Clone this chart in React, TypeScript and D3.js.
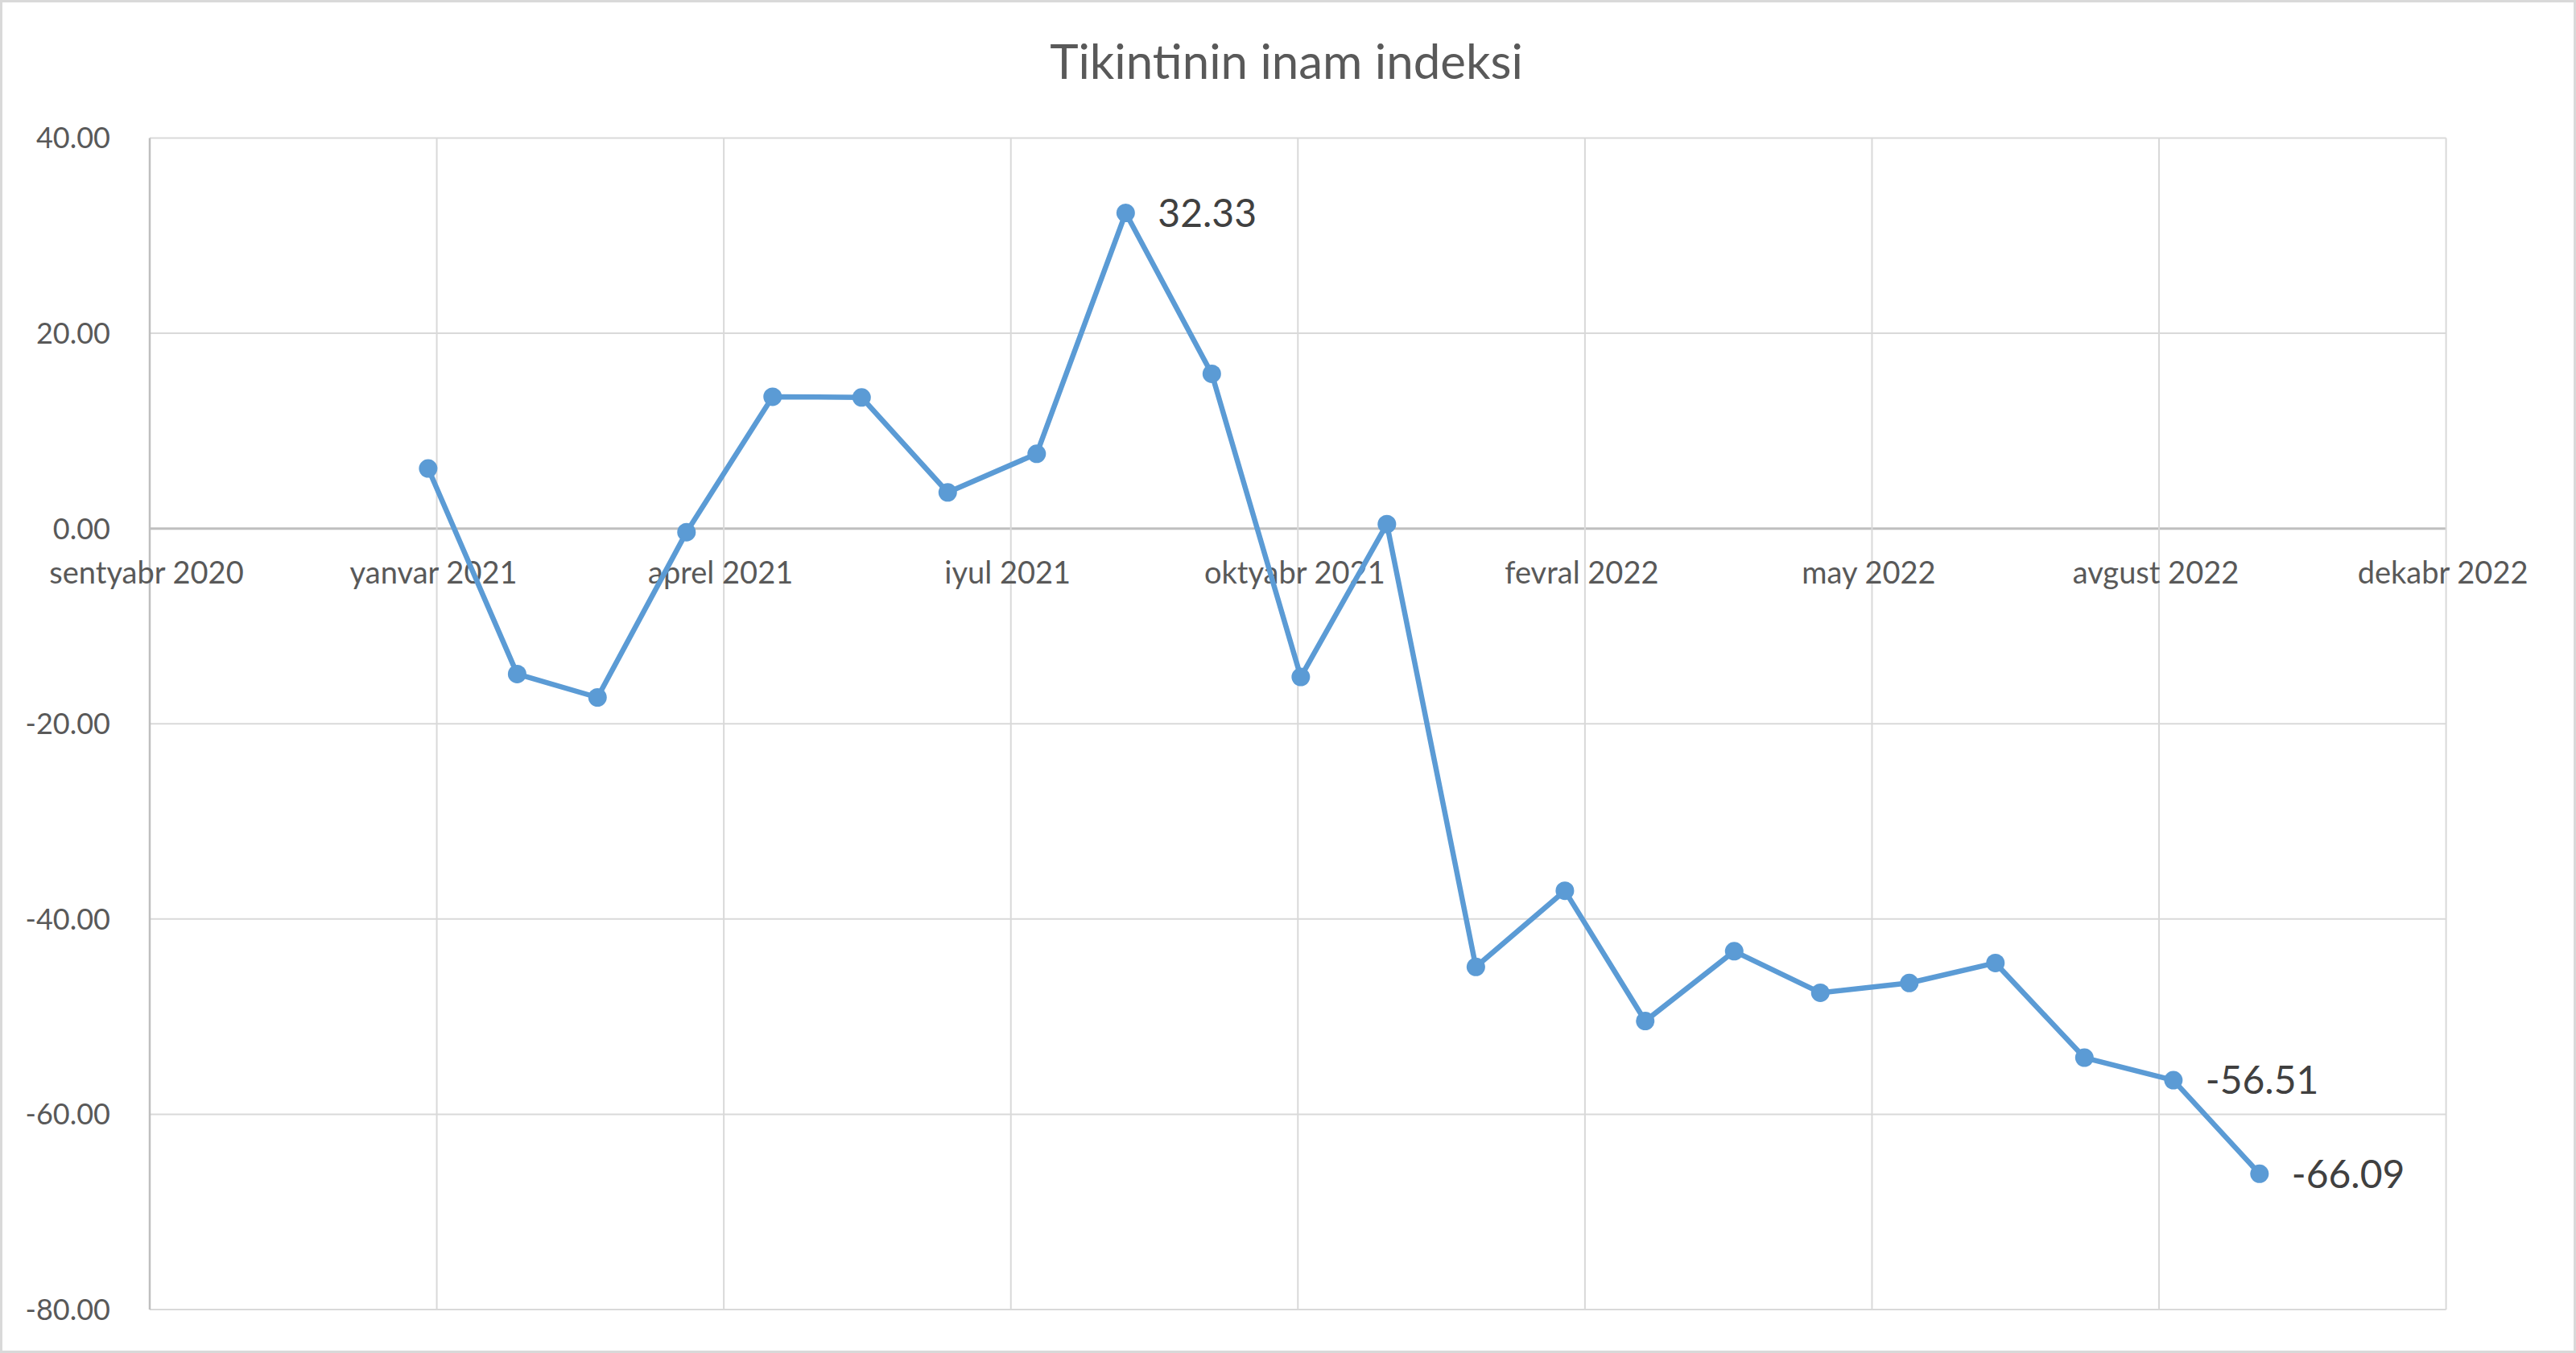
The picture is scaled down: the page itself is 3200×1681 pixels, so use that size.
import React from "react";
import * as d3 from "d3";

const title = "Tikintinin inam indeksi";

const months: string[] = [
  "2021-01-01", "2021-02-01", "2021-03-01", "2021-04-01", "2021-05-01", "2021-06-01",
  "2021-07-01", "2021-08-01", "2021-09-01", "2021-10-01", "2021-11-01", "2021-12-01",
  "2022-01-01", "2022-02-01", "2022-03-01", "2022-04-01", "2022-05-01", "2022-06-01",
  "2022-07-01", "2022-08-01", "2022-09-01", "2022-10-01",
];

const values: number[] = [
  6.15, -14.9, -17.3, -0.37, 13.5, 13.43, 3.7, 7.66, 32.33, 15.85, -15.2, 0.45,
  -44.9, -37.1, -50.45, -43.3, -47.55, -46.55, -44.5, -54.2, -56.51, -66.09,
];

const labeledIdx: number[] = [8, 20, 21];

const xTickDates: string[] = [
  "2020-09-26", "2021-01-04", "2021-04-14", "2021-07-23", "2021-10-31",
  "2022-02-08", "2022-05-19", "2022-08-27", "2022-12-05",
];
const xTickLabels: string[] = [
  "sentyabr 2020", "yanvar 2021", "aprel 2021", "iyul 2021", "oktyabr 2021",
  "fevral 2022", "may 2022", "avgust 2022", "dekabr 2022",
];

const yTicks: number[] = [40, 20, 0, -20, -40, -60, -80];

const W = 3200;
const H = 1681;
const FONT = "Lato, 'Open Sans', sans-serif";

export default function App() {
  const left = 186;
  const right = 3038.6;
  const top = 171.5;
  const bottom = 1627;

  const parse = d3.utcParse("%Y-%m-%d");
  const x = d3
    .scaleUtc()
    .domain([parse(xTickDates[0])!, parse(xTickDates[xTickDates.length - 1])!])
    .range([left, right]);
  const y = d3.scaleLinear().domain([-80, 40]).range([bottom, top]);

  const pts = months.map((m, i) => ({ d: parse(m)!, v: values[i] }));
  const line = d3
    .line<{ d: Date; v: number }>()
    .x((p) => x(p.d))
    .y((p) => y(p.v));

  const locale = d3.formatLocale({
    decimal: ".",
    thousands: ",",
    grouping: [3],
    currency: ["", ""],
    minus: "-",
  });
  const fmt = locale.format(".2f");

  return (
    <svg
      width={W}
      height={H}
      style={{ position: "absolute", left: 0, top: 0, background: "#fff" }}
    >
      <rect x={0} y={0} width={W} height={H} fill="#fff" />
      <rect x={1.5} y={1.5} width={W - 3} height={H - 3} fill="none" stroke="#d9d9d9" strokeWidth={3} />

      <text x={1598} y={98} textAnchor="middle" fontFamily={FONT} fontSize={60} fill="#595959">
        {title}
      </text>

      {yTicks.map((t) => (
        <line
          key={"hg" + t}
          x1={left}
          x2={right}
          y1={y(t)}
          y2={y(t)}
          stroke={t === 0 ? "#bfbfbf" : "#d9d9d9"}
          strokeWidth={t === 0 ? 3 : 2}
        />
      ))}
      {xTickDates.map((d, i) => (
        <line
          key={"vg" + d}
          x1={x(parse(d)!)}
          x2={x(parse(d)!)}
          y1={top}
          y2={bottom}
          stroke={i === 0 ? "#bfbfbf" : "#d9d9d9"}
          strokeWidth={i === 0 ? 2.5 : 2}
        />
      ))}

      {yTicks.map((t) => (
        <text
          key={"yl" + t}
          x={137}
          y={y(t)}
          dy="0.36em"
          textAnchor="end"
          fontFamily={FONT}
          fontSize={36}
          fill="#595959"
        >
          {fmt(t)}
        </text>
      ))}

      {xTickDates.map((d, i) => (
        <text
          key={"xl" + d}
          x={x(parse(d)!) - 4}
          y={725}
          textAnchor="middle"
          fontFamily={FONT}
          fontSize={38}
          fill="#595959"
        >
          {xTickLabels[i]}
        </text>
      ))}

      <path d={line(pts) || ""} fill="none" stroke="#5b9bd5" strokeWidth={6.5} strokeLinejoin="round" />
      {pts.map((p, i) => (
        <circle key={"m" + i} cx={x(p.d)} cy={y(p.v)} r={11.5} fill="#5b9bd5" />
      ))}

      {labeledIdx.map((i) => (
        <text
          key={"dl" + i}
          x={x(pts[i].d) + 40}
          y={y(pts[i].v)}
          dy="0.36em"
          fontFamily={FONT}
          fontSize={48}
          fill="#404040"
        >
          {fmt(values[i])}
        </text>
      ))}
    </svg>
  );
}
